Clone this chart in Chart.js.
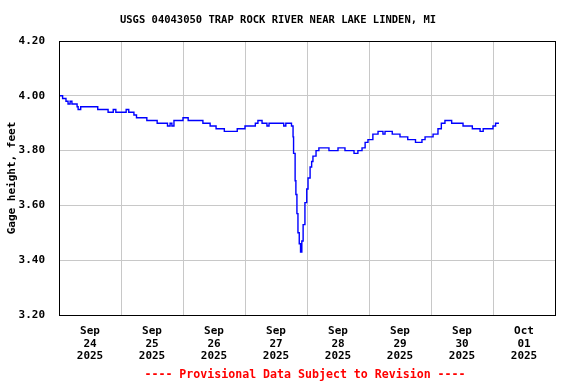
<!DOCTYPE html>
<html>
<head>
<meta charset="utf-8">
<script src="https://cdn.jsdelivr.net/npm/chart.js@4"></script>
<style>
  html, body { margin: 0; padding: 0; background: #fff; }
  #wrap { width: 576px; height: 384px; }
</style>
</head>
<body>
<div id="wrap"><canvas id="gage" width="576" height="384"></canvas></div>
<script>
// hours since Sep 24 2025 00:00, gage height (ft)
const hours = [
  0, 1.4, 2.7, 3.5, 4.3, 5, 7, 7.4, 8.4, 15, 19, 21, 22, 24.8, 26, 27, 29, 30, 34, 38,
  42, 43, 43.7, 44.5, 48, 50, 55.7, 58.5, 60.8, 64, 69, 72, 76, 77, 78.6, 80.5, 81.3, 83,
  87, 87.8, 90, 90.6, 90.8, 91.4, 91.7, 92.1, 92.5, 93, 93.5, 94, 94.5, 95.2, 95.9, 96.4,
  97.2, 97.8, 98.3, 99.5, 100.6, 102.6, 103.7, 104.5, 108, 110.7, 114.2, 115.7, 117.3,
  118.5, 119.6, 121.5, 123.5, 125.4, 126.2, 129, 132, 135, 138, 140.5, 141.7, 144.8,
  146.7, 148, 149.4, 152, 156.4, 160, 163, 164.2, 168, 169, 170.3
];
const heights = [
  4.00, 3.99, 3.98, 3.97, 3.98, 3.97, 3.96, 3.95, 3.96, 3.95, 3.94, 3.95, 3.94, 3.94, 3.95, 3.94, 3.93, 3.92, 3.91, 3.90,
  3.89, 3.90, 3.89, 3.91, 3.92, 3.91, 3.90, 3.89, 3.88, 3.87, 3.88, 3.89, 3.90, 3.91, 3.90, 3.89, 3.90, 3.90,
  3.89, 3.90, 3.89, 3.85, 3.79, 3.69, 3.64, 3.57, 3.50, 3.46, 3.43, 3.47, 3.53, 3.61, 3.66, 3.70,
  3.74, 3.76, 3.78, 3.80, 3.81, 3.81, 3.81, 3.80, 3.81, 3.80, 3.79, 3.80, 3.81,
  3.83, 3.84, 3.86, 3.87, 3.86, 3.87, 3.86, 3.85, 3.84, 3.83, 3.84, 3.85, 3.86,
  3.88, 3.90, 3.91, 3.90, 3.89, 3.88, 3.87, 3.88, 3.89, 3.90, 3.90
];
const dayLabels = [
  ["Sep", "24", "2025"], ["Sep", "25", "2025"], ["Sep", "26", "2025"], ["Sep", "27", "2025"],
  ["Sep", "28", "2025"], ["Sep", "29", "2025"], ["Sep", "30", "2025"], ["Oct", "01", "2025"]
];
const yTicks = [3.2, 3.4, 3.6, 3.8, 4.0, 4.2];

const titleText = "USGS 04043050 TRAP ROCK RIVER NEAR LAKE LINDEN, MI";
const footText = "---- Provisional Data Subject to Revision ----";
const mono = "bold 11px 'DejaVu Sans Mono', 'Liberation Mono', monospace";

const points = hours.map((h, i) => ({ x: h, y: heights[i] }));

const frame = {
  id: "frame",
  afterDraw(chart) {
    const { ctx, chartArea: a } = chart;
    ctx.save();
    ctx.strokeStyle = "#000";
    ctx.lineWidth = 1;
    ctx.strokeRect(a.left + 0.5, a.top + 0.5, a.right - a.left, a.bottom - a.top);

    ctx.fillStyle = "#000";
    ctx.textAlign = "center";
    ctx.textBaseline = "middle";
    ctx.font = "bold 10.5px 'DejaVu Sans Mono', monospace";
    ctx.fillText(titleText, 278, 20);

    ctx.fillStyle = "#ff0000";
    ctx.font = "bold 11.6px 'DejaVu Sans Mono', monospace";
    ctx.fillText(footText, 305, 375);

    ctx.fillStyle = "#000";
    ctx.font = mono;
    ctx.translate(12, (a.top + a.bottom) / 2);
    ctx.rotate(-Math.PI / 2);
    ctx.fillText("Gage height, feet", 0, 0);
    ctx.restore();
  }
};

new Chart(document.getElementById("gage").getContext("2d"), {
  type: "line",
  data: {
    datasets: [{
      data: points,
      borderColor: "#0000ff",
      borderWidth: 1.4,
      pointRadius: 0,
      stepped: true,
      fill: false
    }]
  },
  options: {
    responsive: false,
    animation: false,
    layout: { padding: { top: 41, right: 21, left: 0, bottom: 0 } },
    plugins: { legend: { display: false }, tooltip: { enabled: false } },
    scales: {
      x: {
        type: "linear",
        min: 0,
        max: 192,
        border: { display: false },
        grid: { color: "#c8c8c8", lineWidth: 1, drawTicks: false },
        ticks: { display: false, stepSize: 24 },
        afterFit(s) { s.height = 0; }
      },
      x2: {
        type: "linear",
        position: "bottom",
        min: 0,
        max: 192,
        border: { display: false },
        grid: { display: false },
        afterBuildTicks(s) {
          s.ticks = dayLabels.map((_, i) => ({ value: 12 + 24 * i }));
        },
        ticks: {
          autoSkip: false,
          maxRotation: 0,
          padding: 2,
          color: "#000",
          font: { family: "'DejaVu Sans Mono', monospace", size: 11, weight: "bold", lineHeight: 1.15 },
          callback: (v) => dayLabels[Math.round((v - 12) / 24)]
        },
        afterFit(s) { s.height = 69; }
      },
      y: {
        min: 3.2,
        max: 4.2,
        border: { display: false },
        grid: { color: "#c8c8c8", lineWidth: 1, drawTicks: false },
        afterBuildTicks(s) {
          s.ticks = yTicks.map((v) => ({ value: v }));
        },
        ticks: {
          padding: 14,
          color: "#000",
          font: { family: "'DejaVu Sans Mono', monospace", size: 11, weight: "bold" },
          callback: (v) => Number(v).toFixed(2)
        },
        afterFit(s) { s.width = 59; }
      }
    }
  },
  plugins: [frame]
});
</script>
</body>
</html>
